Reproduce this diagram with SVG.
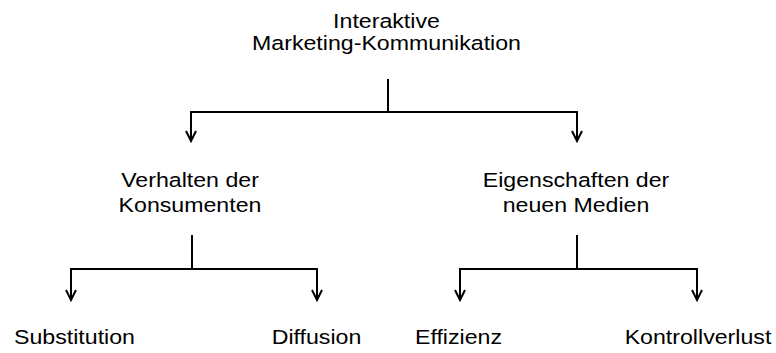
<svg xmlns="http://www.w3.org/2000/svg" width="776" height="353" viewBox="0 0 776 353">
<defs>
<style>
.t{font-family:"Liberation Sans",Arial,sans-serif;font-size:20.5px;fill:#000;text-anchor:middle}
.c{fill:none;stroke:#000;stroke-width:2;stroke-linecap:butt;stroke-linejoin:miter}
</style>
<marker id="ah" markerUnits="userSpaceOnUse" viewBox="0 0 12 12" refX="10" refY="6" markerWidth="12" markerHeight="12" orient="auto" overflow="visible">
<path d="M0,1 L10,6 L0,11" fill="none" stroke="#000" stroke-width="2"/>
</marker>
</defs>
<rect width="776" height="353" fill="#fff"/>
<g id="connectors">
<path class="c" d="M388,79 V112"/>
<path class="c" d="M191,112 H577"/>
<path class="c" d="M191,111 V141" marker-end="url(#ah)"/>
<path class="c" d="M577,111 V141" marker-end="url(#ah)"/>
<path class="c" d="M192,235 V269"/>
<path class="c" d="M71,269 H317"/>
<path class="c" d="M71,268 V300" marker-end="url(#ah)"/>
<path class="c" d="M317,268 V300" marker-end="url(#ah)"/>
<path class="c" d="M577,235 V269"/>
<path class="c" d="M460,269 H697"/>
<path class="c" d="M460,268 V300" marker-end="url(#ah)"/>
<path class="c" d="M697,268 V300" marker-end="url(#ah)"/>
</g>
<g id="root">
<g transform="translate(386.5,0) scale(1.13,1)"><text class="t" x="0" y="28.5">Interaktive</text><text class="t" x="0" y="50.5">Marketing-Kommunikation</text></g>
</g>
<g id="verhalten">
<g transform="translate(190,0) scale(1.13,1)"><text class="t" x="0" y="187">Verhalten der</text><text class="t" x="0" y="212">Konsumenten</text></g>
</g>
<g id="eigenschaften">
<g transform="translate(576,0) scale(1.13,1)"><text class="t" x="0" y="187">Eigenschaften der</text><text class="t" x="0" y="212">neuen Medien</text></g>
</g>
<g id="substitution">
<g transform="translate(74.5,0) scale(1.13,1)"><text class="t" x="0" y="344">Substitution</text></g>
</g>
<g id="diffusion">
<g transform="translate(316.5,0) scale(1.13,1)"><text class="t" x="0" y="344">Diffusion</text></g>
</g>
<g id="effizienz">
<g transform="translate(458.5,0) scale(1.13,1)"><text class="t" x="0" y="344">Effizienz</text></g>
</g>
<g id="kontrollverlust">
<g transform="translate(698,0) scale(1.13,1)"><text class="t" x="0" y="344">Kontrollverlust</text></g>
</g>
</svg>
